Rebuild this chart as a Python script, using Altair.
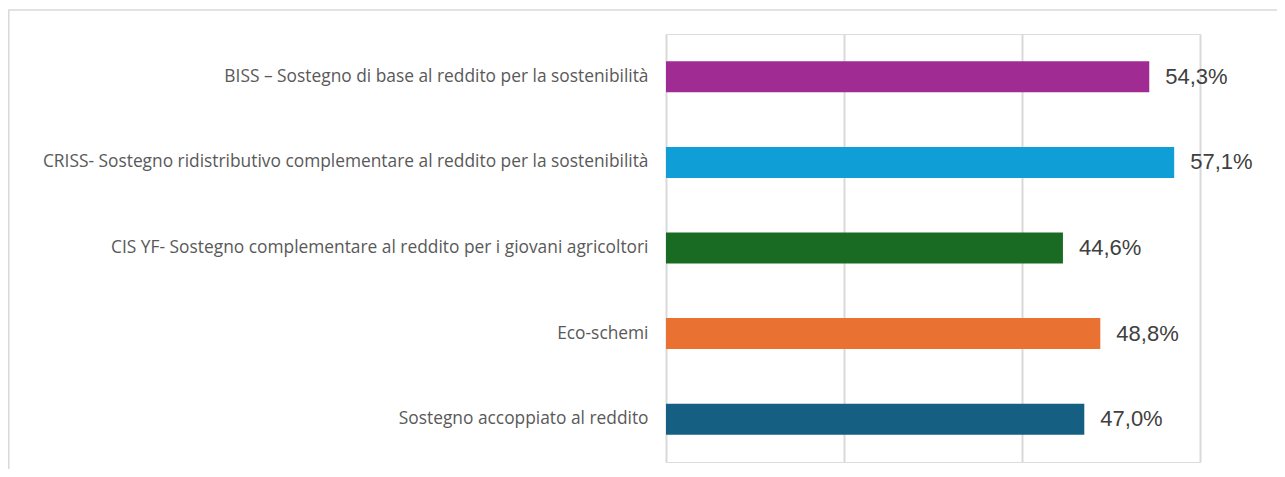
import altair as alt
import pandas as pd

categories = [
    "BISS – Sostegno di base al reddito per la sostenibilità",
    "CRISS- Sostegno ridistributivo complementare al reddito per la sostenibilità",
    "CIS YF- Sostegno complementare al reddito per i giovani agricoltori",
    "Eco-schemi",
    "Sostegno accoppiato al reddito",
]
values = [54.3, 57.1, 44.6, 48.8, 47.0]
colors = ["#A02B93", "#0F9ED5", "#196B24", "#E97132", "#156082"]
x_ticks = [0, 20, 40, 60]

df = pd.DataFrame({
    "cat": categories,
    "val": values,
    "color": colors,
    "label": [f"{v:.1f}%".replace(".", ",") for v in values],
})

W, H = 534, 428
PL, PT, PR, PB = 658, 26, 77, 7

y_enc = alt.Y("cat:N", sort=categories, title=None,
              scale=alt.Scale(paddingInner=0.64, paddingOuter=0.32),
              axis=alt.Axis(labelFont="Open Sans", labelFontSize=17.35, labelColor="#595959",
                            labelPadding=18, ticks=False, domain=False, labelLimit=700))
x_enc = alt.X("val:Q", title=None, scale=alt.Scale(domain=[0, 60], nice=False),
              axis=alt.Axis(values=x_ticks, labels=False, ticks=False, domain=False,
                            grid=True, gridColor="#d9d9d9", gridWidth=2))

frame = alt.Chart(pd.DataFrame({"a": [0]})).mark_rect(
    filled=False, stroke="#d9d9d9", strokeWidth=1.5
).encode(
    x=alt.value(-PL + 0.8), x2=alt.value(W + PR + 20),
    y=alt.value(-PT + 2), y2=alt.value(H + PB + 20),
)

bars = alt.Chart(df).mark_bar(size=31).encode(
    y=y_enc, x=x_enc, color=alt.Color("color:N", scale=None)
)

texts = alt.Chart(df).mark_text(
    align="left", baseline="middle", dx=16, fontSize=22, font="Liberation Sans", color="#404040"
).encode(y=alt.Y("cat:N", sort=categories), x=alt.X("val:Q"), text="label:N")

chart = alt.layer(frame, bars, texts).properties(
    width=W, height=H,
    autosize=alt.AutoSizeParams(type="none"),
    padding={"left": PL, "top": PT, "right": PR, "bottom": PB},
).configure_view(stroke=None).configure(background="white")

chart.save("out.html", embed_options={"renderer": "svg", "actions": False})
